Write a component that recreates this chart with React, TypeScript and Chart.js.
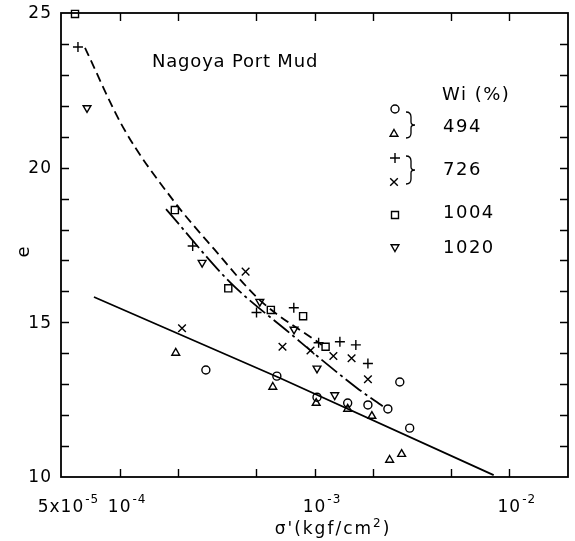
import React, { useEffect, useRef } from "react";
import { Chart, registerables } from "chart.js";

Chart.register(...registerables);

// ---- axis ranges & ticks ----
const X_MIN = 5e-5;
const X_MAX = 2e-2;
const Y_MIN = 10;
const Y_MAX = 25;
const xTickValues = [1e-4, 2e-4, 5e-4, 1e-3, 2e-3, 5e-3, 1e-2];
const yTickValues = [11, 12, 13, 14, 15, 16, 17, 18, 19, 20, 21, 22, 23, 24];
const xLabelValues = [5e-5, 1e-4, 1e-3, 1e-2];
const xLabelBases = ["5x10", "10", "10", "10"];
const xLabelExps = ["-5", "-4", "-3", "-2"];
const yLabelValues = [10, 15, 20, 25];

// ---- data: Wi = 494 % ----
const circleX = [2.77e-4, 6.41e-4, 1.03e-3, 1.48e-3, 1.88e-3, 2.38e-3, 2.74e-3, 3.08e-3];
const circleY = [13.46, 13.26, 12.58, 12.39, 12.33, 12.2, 13.07, 11.58];
const triUpX = [1.94e-4, 6.11e-4, 1.02e-3, 1.48e-3, 1.97e-3, 2.43e-3, 2.8e-3];
const triUpY = [14.01, 12.91, 12.39, 12.2, 11.97, 10.55, 10.74];
// ---- Wi = 726 % ----
const plusX = [6.11e-5, 2.37e-4, 5.04e-4, 7.83e-4, 1.05e-3, 1.35e-3, 1.63e-3, 1.88e-3];
const plusY = [23.9, 17.47, 15.32, 15.47, 14.34, 14.37, 14.27, 13.67];
const crossX = [2.09e-4, 4.43e-4, 6.85e-4, 9.54e-4, 1.25e-3, 1.55e-3, 1.88e-3];
const crossY = [14.81, 16.64, 14.21, 14.09, 13.91, 13.84, 13.16];
// ---- Wi = 1004 % ----
const squareX = [5.9e-5, 1.92e-4, 3.61e-4, 5.97e-4, 8.74e-4, 1.14e-3];
const squareY = [24.97, 18.63, 16.1, 15.4, 15.2, 14.21];
// ---- Wi = 1020 % ----
const triDownX = [6.8e-5, 2.65e-4, 5.24e-4, 7.85e-4, 1.03e-3, 1.27e-3];
const triDownY = [21.93, 16.93, 15.67, 14.77, 13.51, 12.65];

// ---- fitted curves ----
const dashedX = [6.64e-5, 1.04e-4, 1.88e-4, 3.08e-4, 5.24e-4, 1.09e-3];
const dashedY = [23.87, 21.31, 18.95, 17.34, 15.72, 14.27];
const dashDotX = [1.73e-4, 3.68e-4, 7.47e-4, 1.65e-3, 2.24e-3];
const dashDotY = [18.66, 16.3, 14.65, 12.88, 12.29];
const solidX = [7.38e-5, 6.64e-4, 8.31e-3];
const solidY = [15.82, 13.2, 10.06];

// ---- texts ----
const titleText = "Nagoya Port Mud";
const legendHeader = "Wi (%)";
const legendLabels = ["494", "726", "1004", "1020"];
const yTitle = "e";

const pts = (xs: number[], ys: number[]) => xs.map((x, i) => ({ x, y: ys[i] }));

const FONT = "'DejaVu Sans', sans-serif";

function drawMarker(ctx: CanvasRenderingContext2D, style: string, x: number, y: number) {
  ctx.beginPath();
  if (style === "circle") {
    ctx.arc(x, y, 4, 0, Math.PI * 2);
  } else if (style === "triUp") {
    ctx.moveTo(x, y - 4.5);
    ctx.lineTo(x + 3.9, y + 2.25);
    ctx.lineTo(x - 3.9, y + 2.25);
    ctx.closePath();
  } else if (style === "triDown") {
    ctx.moveTo(x, y + 4.5);
    ctx.lineTo(x + 3.9, y - 2.25);
    ctx.lineTo(x - 3.9, y - 2.25);
    ctx.closePath();
  } else if (style === "plus") {
    ctx.moveTo(x - 5, y);
    ctx.lineTo(x + 5, y);
    ctx.moveTo(x, y - 5);
    ctx.lineTo(x, y + 5);
  } else if (style === "cross") {
    ctx.moveTo(x - 3.8, y - 3.8);
    ctx.lineTo(x + 3.8, y + 3.8);
    ctx.moveTo(x - 3.8, y + 3.8);
    ctx.lineTo(x + 3.8, y - 3.8);
  } else if (style === "square") {
    ctx.rect(x - 3.5, y - 3.5, 7, 7);
  }
  ctx.stroke();
}

function drawBrace(ctx: CanvasRenderingContext2D, x: number, top: number, bot: number) {
  const mid = (top + bot) / 2;
  ctx.beginPath();
  ctx.moveTo(x, top);
  ctx.quadraticCurveTo(x + 5, top, x + 5, top + 5);
  ctx.lineTo(x + 5, mid - 3);
  ctx.quadraticCurveTo(x + 5, mid, x + 9, mid);
  ctx.quadraticCurveTo(x + 5, mid, x + 5, mid + 3);
  ctx.lineTo(x + 5, bot - 5);
  ctx.quadraticCurveTo(x + 5, bot, x, bot);
  ctx.stroke();
}

const decorPlugin = {
  id: "decor",
  afterDraw(chart: any) {
    const ctx: CanvasRenderingContext2D = chart.ctx;
    const a = chart.chartArea;
    const xs = chart.scales.x;
    const ys = chart.scales.y;
    ctx.save();
    ctx.strokeStyle = "#000";
    ctx.fillStyle = "#000";
    // frame
    ctx.lineWidth = 1.8;
    ctx.strokeRect(a.left, a.top, a.right - a.left, a.bottom - a.top);
    // inward ticks
    ctx.lineWidth = 1.4;
    ctx.beginPath();
    for (const v of xTickValues) {
      const px = Math.round(xs.getPixelForValue(v)) + 0.5;
      ctx.moveTo(px, a.bottom);
      ctx.lineTo(px, a.bottom - 8);
      ctx.moveTo(px, a.top);
      ctx.lineTo(px, a.top + 8);
    }
    for (const v of yTickValues) {
      const py = Math.round(ys.getPixelForValue(v)) + 0.5;
      ctx.moveTo(a.left, py);
      ctx.lineTo(a.left + 8, py);
      ctx.moveTo(a.right, py);
      ctx.lineTo(a.right - 8, py);
    }
    ctx.stroke();

    // y tick labels
    (ctx as any).letterSpacing = "1px";
    ctx.font = `17px ${FONT}`;
    ctx.textAlign = "right";
    ctx.textBaseline = "middle";
    for (const v of yLabelValues) {
      ctx.fillText(String(v), a.left - 9, ys.getPixelForValue(v) + 1);
    }
    // x tick labels with superscript exponents
    ctx.textAlign = "left";
    ctx.textBaseline = "alphabetic";
    xLabelValues.forEach((v, i) => {
      const px = xs.getPixelForValue(v);
      ctx.font = `17px ${FONT}`;
      const wb = ctx.measureText(xLabelBases[i]).width;
      ctx.fillText(xLabelBases[i], px - wb / 2, a.bottom + 35);
      ctx.font = `12px ${FONT}`;
      ctx.fillText(xLabelExps[i], px + wb / 2 + 1, a.bottom + 26);
    });
    // x axis title
    {
      (ctx as any).letterSpacing = "2px";
      ctx.font = `17px ${FONT}`;
      const p1 = "σ'(kgf/cm";
      const p3 = ")";
      const w1 = ctx.measureText(p1).width;
      const w3 = ctx.measureText(p3).width;
      ctx.font = `12px ${FONT}`;
      const w2 = ctx.measureText("2").width;
      const total = w1 + w2 + w3;
      const x0 = 333 - total / 2;
      const yb = a.bottom + 57;
      ctx.font = `17px ${FONT}`;
      ctx.fillText(p1, x0, yb);
      ctx.font = `12px ${FONT}`;
      ctx.fillText("2", x0 + w1, yb - 7);
      ctx.font = `17px ${FONT}`;
      ctx.fillText(p3, x0 + w1 + w2, yb);
    }
    // y axis title
    (ctx as any).letterSpacing = "0px";
    ctx.save();
    ctx.translate(24, 252);
    ctx.rotate(-Math.PI / 2);
    ctx.font = `18px ${FONT}`;
    ctx.textAlign = "center";
    ctx.textBaseline = "middle";
    ctx.fillText(yTitle, 0, 0);
    ctx.restore();

    // title
    (ctx as any).letterSpacing = "0.8px";
    ctx.font = `18px ${FONT}`;
    ctx.textAlign = "left";
    ctx.textBaseline = "middle";
    ctx.fillText(titleText, 152, 62);

    // legend
    (ctx as any).letterSpacing = "1.5px";
    ctx.fillText(legendHeader, 442, 95);
    const ly = [127, 170, 213, 248];
    legendLabels.forEach((t, i) => ctx.fillText(t, 443, ly[i]));
    ctx.lineWidth = 1.4;
    drawMarker(ctx, "circle", 395, 109);
    drawMarker(ctx, "triUp", 394, 134);
    drawMarker(ctx, "plus", 395, 158);
    drawMarker(ctx, "cross", 394, 182);
    drawMarker(ctx, "square", 395, 215);
    drawMarker(ctx, "triDown", 395, 247);
    ctx.lineWidth = 1.3;
    drawBrace(ctx, 406, 112, 138);
    drawBrace(ctx, 406, 156, 184);
    ctx.restore();
  },
};

const markerDs = (label: string, data: any[], style: string, radius: number, rotation = 0) => ({
  label,
  data,
  showLine: false,
  pointStyle: style,
  pointRadius: radius,
  pointRotation: rotation,
  pointBorderColor: "#000",
  pointBackgroundColor: "rgba(0,0,0,0)",
  pointBorderWidth: 1.4,
  borderColor: "#000",
  backgroundColor: "rgba(0,0,0,0)",
  clip: false,
});

const lineDs = (label: string, data: any[], dash: number[], smooth: boolean) => ({
  label,
  data,
  showLine: true,
  borderColor: "#000",
  borderWidth: 1.8,
  borderDash: dash,
  pointRadius: 0,
  fill: false,
  cubicInterpolationMode: smooth ? "monotone" : "default",
  tension: smooth ? 0.4 : 0,
  clip: false,
});

export default function App() {
  const ref = useRef<HTMLCanvasElement>(null);
  useEffect(() => {
    if (!ref.current) return;
    const chart = new Chart(ref.current, {
      type: "scatter",
      data: {
        datasets: [
          markerDs("494 circle", pts(circleX, circleY), "circle", 4),
          markerDs("494 triangle", pts(triUpX, triUpY), "triangle", 4.5),
          markerDs("726 plus", pts(plusX, plusY), "cross", 5),
          markerDs("726 x", pts(crossX, crossY), "crossRot", 5.4),
          markerDs("1004", pts(squareX, squareY), "rect", 5),
          markerDs("1020", pts(triDownX, triDownY), "triangle", 4.5, 180),
          lineDs("dashed", pts(dashedX, dashedY), [9, 5], true),
          lineDs("dash-dot", pts(dashDotX, dashDotY), [20, 4, 3, 4], true),
          lineDs("solid", pts(solidX, solidY), [], false),
        ] as any,
      },
      options: {
        responsive: false,
        devicePixelRatio: 1,
        animation: false,
        events: [],
        layout: { padding: { left: 61, right: 7, top: 13, bottom: 64 } },
        plugins: { legend: { display: false }, tooltip: { enabled: false } },
        scales: {
          x: { type: "logarithmic", min: X_MIN, max: X_MAX, display: false },
          y: { type: "linear", min: Y_MIN, max: Y_MAX, display: false },
        },
      } as any,
      plugins: [decorPlugin],
    });
    return () => chart.destroy();
  }, []);
  return (
    <div style={{ position: "absolute", left: 0, top: 0, width: 575, height: 541, background: "#fff" }}>
      <canvas ref={ref} width={575} height={541} style={{ display: "block", width: 575, height: 541 }} />
    </div>
  );
}
